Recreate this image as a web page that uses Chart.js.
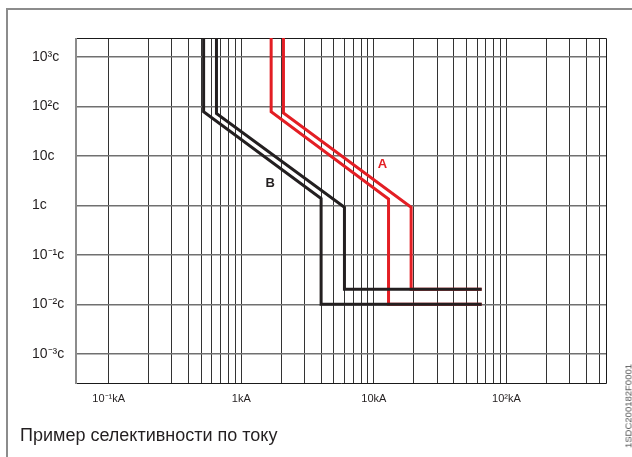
<!DOCTYPE html>
<html>
<head>
<meta charset="utf-8">
<script src="https://cdn.jsdelivr.net/npm/chart.js@4.4.1/dist/chart.umd.min.js"></script>
<style>
  body { margin: 0; background: #fff; }
  #wrap { position: relative; width: 632px; height: 457px; overflow: hidden;
          font-family: "Liberation Sans", Arial, sans-serif; }
  #frame { position: absolute; left: 6px; top: 8px; width: 640px; height: 460px;
           border-left: 2px solid #8c8c8c; border-top: 2px solid #8c8c8c; }
  #chart { position: absolute; left: 0; top: 0; }
  #caption { position: absolute; left: 20px; top: 425px; font-size: 18px;
             line-height: 20px; color: #231f20; white-space: nowrap; }
  #code { position: absolute; left: 628px; top: 406px; font-size: 9.5px; color: #555;
          white-space: nowrap; transform: translate(-50%, -50%) rotate(-90deg); }
</style>
</head>
<body>
<div id="wrap">
  <div id="frame"></div>
  <canvas id="chart" width="632" height="457"></canvas>
  <div id="caption">Пример селективности по току</div>
  <div id="code">1SDC200182F0001</div>
</div>
<script>
// current in kA, time in seconds
let curveB1_I = [0.52, 0.52, 4.0, 4.0, 65];
let curveB1_t = [2500, 78, 1.38, 0.01, 0.01];
let curveB2_I = [0.65, 0.65, 6.0, 6.0, 65];
let curveB2_t = [2500, 72, 0.91, 0.02, 0.02];
let curveA1_I = [1.68, 1.68, 12.9, 12.9, 65];
let curveA1_t = [2500, 78, 1.34, 0.01, 0.01];
let curveA2_I = [2.08, 2.08, 19.1, 19.1, 65];
let curveA2_t = [2500, 74, 0.91, 0.02, 0.02];

let xTicks = [0.1, 0.2, 0.3, 0.4, 0.5, 0.6, 0.7, 0.8, 0.9,
              1, 2, 3, 4, 5, 6, 7, 8, 9,
              10, 20, 30, 40, 50, 60, 70, 80, 90,
              100, 200, 300, 400, 500];
let xLabelValues = [0.1, 1, 10, 100];
let xLabelTexts = ["10⁻¹kA", "1kA", "10kA", "10²kA"];
let yTicks = [0.001, 0.01, 0.1, 1, 10, 100, 1000];
let yLabelTexts = ["10⁻³c", "10⁻²c", "10⁻¹c", "1c", "10c", "10²c", "10³c"];

let curveNames = ["A", "B"];
let curveNameI = [11.6, 1.65];
let curveNameT = [6.7, 2.78];

let red = "#e31e24";
let black = "#231f20";

function points(xs, ys) {
  return xs.map((x, i) => ({ x: x, y: ys[i] }));
}

function curve(xs, ys, color) {
  return {
    data: points(xs, ys),
    showLine: true,
    borderColor: color,
    borderWidth: 3,
    borderJoinStyle: "miter",
    pointRadius: 0,
    tension: 0
  };
}

let framePlugin = {
  id: "frame",
  beforeDatasetsDraw(chart) {
    let a = chart.chartArea;
    let ctx = chart.ctx;
    ctx.save();
    ctx.strokeStyle = "#1a1a1a";
    ctx.lineWidth = 1;
    ctx.beginPath();
    ctx.moveTo(a.left, a.top + 0.5);
    ctx.lineTo(a.right - 0.5, a.top + 0.5);
    ctx.lineTo(a.right - 0.5, a.bottom - 0.5);
    ctx.lineTo(a.left, a.bottom - 0.5);
    ctx.stroke();
    ctx.strokeStyle = "#8c8c8c";
    ctx.lineWidth = 2;
    ctx.beginPath();
    ctx.moveTo(a.left, a.top);
    ctx.lineTo(a.left, a.bottom);
    ctx.stroke();
    ctx.restore();
  }
};

let namesPlugin = {
  id: "names",
  afterDatasetsDraw(chart) {
    let ctx = chart.ctx;
    ctx.save();
    ctx.font = "bold 13px 'Liberation Sans', Arial, sans-serif";
    ctx.textAlign = "center";
    ctx.textBaseline = "middle";
    curveNames.forEach((name, i) => {
      ctx.fillStyle = name == "A" ? red : black;
      let x = chart.scales.x.getPixelForValue(curveNameI[i]);
      let y = chart.scales.y.getPixelForValue(curveNameT[i]);
      ctx.fillText(name, x, y);
    });
    ctx.restore();
  }
};

let ctx = document.getElementById("chart").getContext("2d");
// first datasets are painted last, so the black curves sit on top of the red tails
let chart = new Chart(ctx, {
  type: "scatter",
  data: {
    datasets: [
      curve(curveB1_I, curveB1_t, black),
      curve(curveB2_I, curveB2_t, black),
      curve(curveA1_I, curveA1_t, red),
      curve(curveA2_I, curveA2_t, red)
    ]
  },
  options: {
    responsive: false,
    animation: false,
    devicePixelRatio: 1,
    layout: { padding: { left: 32, right: 25, top: 38, bottom: 0 } },
    plugins: { legend: { display: false }, tooltip: { enabled: false } },
    scales: {
      x: {
        type: "logarithmic",
        min: 0.0567,
        max: 573,
        afterBuildTicks: (scale) => { scale.ticks = xTicks.map(v => ({ value: v })); },
        afterFit: (scale) => { scale.height = 73; },
        border: { display: false },
        grid: { color: "#333", lineWidth: 1, drawTicks: false },
        ticks: {
          autoSkip: false,
          maxRotation: 0,
          padding: 8,
          color: black,
          font: { family: "'Liberation Sans', Arial, sans-serif", size: 11 },
          callback: (value) => {
            let k = xLabelValues.findIndex(v => Math.abs(v - value) < 1e-9);
            return k >= 0 ? xLabelTexts[k] : "";
          }
        }
      },
      y: {
        type: "logarithmic",
        min: 0.000244,
        max: 2421,
        afterBuildTicks: (scale) => { scale.ticks = yTicks.map(v => ({ value: v })); },
        afterFit: (scale) => { scale.width = 44; },
        border: { display: false },
        grid: { color: "#707070", lineWidth: 1.5, drawTicks: false },
        ticks: {
          crossAlign: "far",
          color: black,
          font: { family: "'Liberation Sans', Arial, sans-serif", size: 14 },
          callback: (value) => {
            let k = yTicks.findIndex(v => Math.abs(v - value) < 1e-12);
            return k >= 0 ? yLabelTexts[k] : "";
          }
        }
      }
    }
  },
  plugins: [framePlugin, namesPlugin]
});
</script>
</body>
</html>
